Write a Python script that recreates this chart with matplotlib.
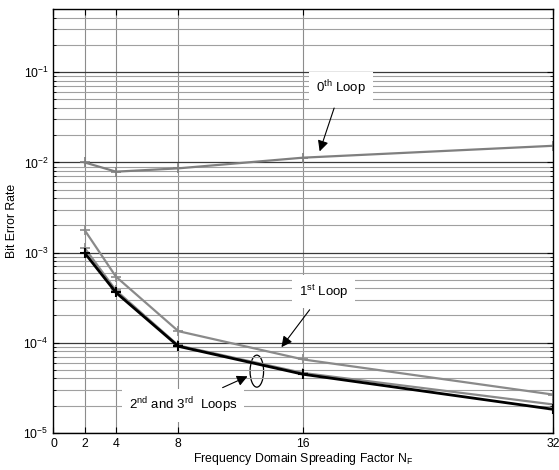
import matplotlib
matplotlib.use("Agg")
import matplotlib.pyplot as plt
import numpy as np
from matplotlib.patches import Ellipse
from matplotlib.transforms import ScaledTranslation

plt.rcParams['font.family'] = ['Liberation Sans', 'DejaVu Sans']
plt.rcParams['mathtext.fontset'] = 'custom'
plt.rcParams['mathtext.rm'] = 'Liberation Sans'
plt.rcParams['mathtext.it'] = 'Liberation Sans:italic'

nf = [2, 4, 8, 16, 32]
ber_loop0 = [1.0e-2, 7.9e-3, 8.6e-3, 1.13e-2, 1.53e-2]
ber_loop1 = [1.77e-3, 5.4e-4, 1.34e-4, 6.5e-5, 2.65e-5]
ber_loop2 = [1.12e-3, 3.8e-4, 9.3e-5, 4.6e-5, 2.06e-5]
ber_loop3 = [0.99e-3, 3.6e-4, 9.1e-5, 4.45e-5, 1.82e-5]
xticks = [0, 2, 4, 8, 16, 32]

fig = plt.figure(figsize=(5.59, 4.70), dpi=100)
ax = fig.add_axes([0.0957, 0.0794, 0.8933, 0.9006])

ax.set_yscale('log')
ax.set_xlim(0, 32)
ax.set_ylim(1e-5, 0.5)

# matlab-ish grid
for v in nf[:-1]:
    ax.axvline(v, color='#8c8c8c', lw=0.8, zorder=0)
ax.yaxis.grid(True, which='minor', color='#a0a0a0', lw=0.8, zorder=0)
ax.yaxis.grid(True, which='major', color='#3a3a3a', lw=0.9, zorder=0)

ax.plot(nf, ber_loop0, color='#7f7f7f', lw=1.6, marker='+', ms=7, mew=1.2)
ax.plot(nf, ber_loop1, color='#8a8a8a', lw=1.6, marker='+', ms=7, mew=1.2)
ax.plot(nf, ber_loop2, color='#8a8a8a', lw=1.6, marker='+', ms=7, mew=1.2)
ax.plot(nf, ber_loop3, color='black', lw=2.0, marker='+', ms=7, mew=1.5)

ax.set_xticks(xticks)
ax.set_xticklabels([str(t) for t in xticks])
ax.set_yticks([1e-5, 1e-4, 1e-3, 1e-2, 1e-1])
ax.tick_params(which='both', direction='in', top=True, right=True, labelsize=8.8)
ax.tick_params(which='major', length=4)
ax.tick_params(which='minor', length=2.5)
for s in ax.spines.values():
    s.set_linewidth(1.0)

ax.set_xlabel('Frequency Domain Spreading Factor N$_{\\rm F}$', fontsize=8.8, labelpad=1)
ax.set_ylabel('Bit Error Rate', fontsize=8.8, labelpad=4)

box = dict(fc='white', ec='none', pad=5)
arw = dict(arrowstyle='-|>', color='black', lw=0.8, mutation_scale=16)
ax.annotate('0$^{\\rm th}$ Loop', xy=(17.0, 1.24e-2), xytext=(18.4, 0.066),
            fontsize=9.5, ha='center', va='center', bbox=box, arrowprops=arw)
ax.annotate('1$^{\\rm st}$ Loop', xy=(14.5, 8.4e-5), xytext=(17.3, 3.7e-4),
            fontsize=9.5, ha='center', va='center', bbox=box, arrowprops=arw)
ax.annotate('2$^{\\rm nd}$ and 3$^{\\rm rd}$  Loops', xy=(12.6, 4.35e-5), xytext=(8.3, 2.0e-5),
            fontsize=9.5, ha='center', va='center', bbox=box, arrowprops=arw)

# ellipse around loops 2/3 at NF ~ 13
tr = fig.dpi_scale_trans + ScaledTranslation(13.03, 4.82e-5, ax.transData)
ax.add_patch(Ellipse((0, 0), 0.135, 0.32, transform=tr, fill=False, ec='black', lw=0.9))

fig.savefig('out.png', dpi=100)
